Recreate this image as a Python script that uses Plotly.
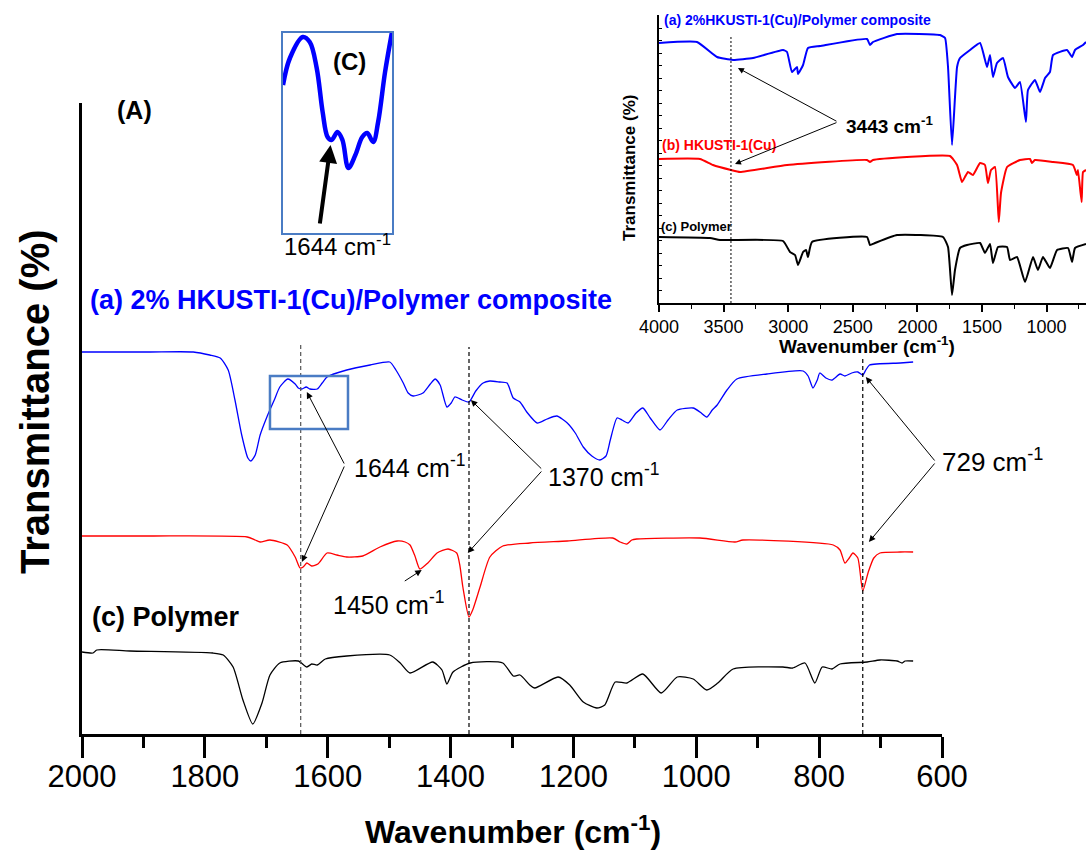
import plotly.graph_objects as go

# ---------------- main panel (A): 2000-600 cm-1, stacked spectra (a.u.) ----------------
wn_a = [2000, 1971, 1889, 1819, 1792, 1775, 1762, 1751, 1740, 1730, 1725, 1718, 1710, 1699, 1687,
        1678, 1665, 1653, 1648, 1642, 1635, 1629, 1617, 1609, 1601, 1569, 1531, 1499, 1489, 1477,
        1469, 1461, 1445, 1433, 1425, 1417, 1406, 1399, 1393, 1381, 1370, 1359, 1347, 1336, 1320,
        1308, 1298, 1287, 1276, 1259, 1243, 1227, 1210, 1197, 1184, 1170, 1157, 1147, 1140, 1129,
        1121, 1111, 1098, 1087, 1075, 1059, 1046, 1031, 1005, 994, 983, 974, 966, 950, 934,
        885, 826, 818, 810, 803, 799, 789, 779, 766, 758, 747, 737, 729, 724, 718, 668, 647]
t_a = [382, 382, 382, 382, 379, 376, 364, 334, 299, 276, 273, 279, 299, 317, 334,
       347, 355, 350, 346, 345, 347, 345, 345, 351, 357, 364, 369, 372, 364, 351,
       341, 338, 341, 350, 355, 349, 327, 331, 337, 334, 332, 343, 351, 353, 352,
       351, 336, 332, 322, 311, 315, 318, 311, 301, 287, 278, 274, 278, 294, 316,
       314, 311, 321, 326, 316, 304, 314, 324, 326, 322, 317, 324, 329, 344, 355,
       360, 363, 358, 346, 354, 361, 356, 354, 360, 358, 361, 362, 359, 364, 369, 371, 372]

wn_b = [2000, 1889, 1731, 1718, 1710, 1694, 1666, 1653, 1645, 1640, 1634, 1626, 1616, 1601, 1585,
        1569, 1543, 1515, 1487, 1474, 1466, 1458, 1450, 1437, 1422, 1404, 1390, 1385, 1380, 1370,
        1364, 1352, 1336, 1315, 1271, 1210, 1136, 1124, 1113, 1105, 1097, 994, 937, 924, 777,
        766, 758, 751, 745, 737, 729, 720, 711, 701, 668, 647]
t_b = [198, 198, 197, 194, 192, 194, 189, 177, 166, 167, 171, 168, 170, 181, 179,
       177, 178, 187, 193, 192, 189, 178, 165, 171, 181, 185, 181, 169, 147, 117,
       124, 147, 177, 188, 191, 193, 196, 192, 190, 194, 195, 196, 192, 194, 189,
       184, 171, 176, 181, 176, 143, 162, 176, 181, 182, 182]

wn_c = [2000, 1982, 1976, 1922, 1787, 1770, 1754, 1738, 1722, 1707, 1694, 1678, 1648, 1634, 1626,
        1617, 1604, 1569, 1499, 1482, 1466, 1429, 1414, 1406, 1396, 1368, 1315, 1298, 1287, 1271,
        1263, 1225, 1206, 1184, 1162, 1149, 1132, 1113, 1087, 1057, 1031, 1005, 983, 965, 940,
        859, 843, 823, 807, 795, 779, 766, 722, 701, 673, 665, 660, 647]
t_c = [82, 81, 84, 83, 81, 79, 67, 34, 10, 31, 59, 71, 73, 67, 70,
       69, 75, 78, 79, 71, 61, 72, 64, 50, 62, 71, 71, 58, 59, 49,
       46, 57, 49, 32, 26, 29, 52, 51, 60, 41, 57, 55, 44, 51, 65,
       67, 66, 71, 51, 67, 65, 70, 72, 74, 73, 71, 73, 73]

# ---------------- inset (B): full range 4000-700 cm-1 ----------------
wn_a_full = [4000, 3706, 3551, 3427, 3272, 3040, 3009, 2971, 2932, 2924, 2885, 2847, 2754, 2390, 2367,
             2344, 2158, 1825, 1786, 1763, 1732, 1693, 1670, 1593, 1515, 1461, 1438, 1415, 1384, 1337,
             1299, 1244, 1206, 1160, 1144, 1090, 1051, 1012, 974, 950, 842, 803, 780, 718, 695]
t_a_full = [260, 261, 246, 243, 245, 253, 251, 231, 236, 229, 238, 255, 257, 264, 258,
            261, 269, 268, 265, 236, 158, 236, 245, 253, 260, 236, 248, 226, 240, 245,
            226, 215, 221, 181, 213, 223, 211, 225, 231, 248, 253, 246, 253, 258, 261]

wn_b_full = [4000, 3683, 3582, 3443, 3373, 3009, 2390, 2367, 2344, 1748, 1693, 1655, 1632, 1608, 1570,
             1515, 1477, 1454, 1430, 1399, 1370, 1353, 1306, 1206, 1129, 1113, 1090, 950, 796, 765,
             757, 729, 718, 695]
t_b_full = [144, 144, 138, 133, 131, 138, 143, 141, 143, 147, 138, 121, 126, 131, 128,
            140, 138, 120, 133, 136, 81, 110, 136, 143, 144, 140, 143, 141, 138, 128,
            133, 101, 131, 133]

wn_c_full = [4000, 3605, 3528, 3040, 2986, 2947, 2924, 2885, 2862, 2847, 2816, 2390, 2367, 2328, 2158,
             1802, 1763, 1732, 1709, 1670, 1616, 1515, 1477, 1438, 1415, 1376, 1306, 1283, 1229, 1167,
             1105, 1067, 1028, 974, 919, 834, 803, 780, 695]
t_c_full = [66, 65, 63, 62, 51, 48, 38, 51, 53, 46, 61, 66, 58, 60, 68,
            66, 56, 8, 33, 55, 58, 60, 50, 59, 40, 56, 56, 43, 46, 21,
            46, 33, 46, 35, 53, 55, 41, 55, 59]

# ---------------- inset (C): magnified composite spectrum near 1644 cm-1 ----------------
wn_zoom = [1700, 1693, 1680, 1673, 1666, 1660, 1655, 1651, 1645, 1640, 1634, 1627, 1620, 1615, 1609,
           1604, 1597, 1590]
t_zoom = [148, 175, 196, 191, 165, 121, 96, 93, 101, 93, 65, 78, 96, 100, 91,
          111, 161, 201]

marked_bands = [1644, 1370, 729]
oh_band = 3443

BLUE, RED, BLACK = "#0000ff", "#ff0000", "#000000"
BOX = "#4a7cc4"
FONT = "Liberation Sans, Arial, sans-serif"

fig = go.Figure()

for wn, t, c in [(wn_a, t_a, BLUE), (wn_b, t_b, RED), (wn_c, t_c, BLACK)]:
    fig.add_trace(go.Scatter(x=wn, y=t, mode="lines", line=dict(color=c, width=1.3, shape="spline", smoothing=0.6),
                             xaxis="x", yaxis="y", showlegend=False))

for wn, t, c in [(wn_a_full, t_a_full, BLUE), (wn_b_full, t_b_full, RED), (wn_c_full, t_c_full, BLACK)]:
    fig.add_trace(go.Scatter(x=wn, y=t, mode="lines", line=dict(color=c, width=2, shape="spline", smoothing=0.4),
                             xaxis="x2", yaxis="y2", showlegend=False))

fig.add_trace(go.Scatter(x=wn_zoom, y=t_zoom, mode="lines", line=dict(color=BLUE, width=4.5, shape="spline"),
                         xaxis="x3", yaxis="y3", showlegend=False))

# geometry helpers (paper fractions)
W, H = 1086, 851
ML, MR, MT, MB = 82, 0, 15, 117
PW, PH = W - ML - MR, H - MT - MB

fig.update_layout(
    width=W, height=H,
    margin=dict(l=ML, r=MR, t=MT, b=MB, pad=0),
    paper_bgcolor="white", plot_bgcolor="white",
    font=dict(family=FONT, color="black"),
    xaxis=dict(domain=[0, 860 / PW], range=[2000, 600], anchor="y", automargin=False,
               showline=True, linecolor="black", linewidth=2.5, showgrid=False, zeroline=False,
               ticks="outside", ticklen=21, tickwidth=2.5, tickcolor="black",
               tickmode="linear", tick0=600, dtick=200, ticklabelstandoff=-8,
               tickfont=dict(size=31, family=FONT, color="black"),
               minor=dict(ticks="outside", ticklen=11, tickwidth=2.5, tickcolor="black", dtick=100, showgrid=False)),
    yaxis=dict(domain=[0, 631 / PH], range=[0, 631], anchor="x", automargin=False,
               showline=True, linecolor="black", linewidth=2.5, showgrid=False, zeroline=False,
               ticks="", showticklabels=False),
    xaxis2=dict(domain=[577 / PW, 1], range=[4000, 695], anchor="y2", automargin=False,
                showline=True, linecolor="black", linewidth=1.5, showgrid=False, zeroline=False,
                ticks="outside", ticklen=7, tickwidth=1.5, tickcolor="black",
                tickmode="linear", tick0=1000, dtick=500,
                tickfont=dict(size=18, family=FONT, color="black"),
                minor=dict(ticks="outside", ticklen=4, tickwidth=1.2, tickcolor="black", dtick=250, showgrid=False)),
    yaxis2=dict(domain=[431 / PH, 1], range=[0, 288], anchor="x2", automargin=False,
                showline=True, linecolor="black", linewidth=1.5, showgrid=False, zeroline=False,
                ticks="inside", ticklen=3, tickwidth=1, tickcolor="black",
                tickmode="linear", tick0=0, dtick=12.5, showticklabels=False),
    xaxis3=dict(domain=[201 / PW, 310 / PW], range=[1700, 1590], anchor="y3", automargin=False,
                showline=True, mirror=True, linecolor=BOX, linewidth=2, showgrid=False, zeroline=False,
                ticks="", showticklabels=False),
    yaxis3=dict(domain=[(734 - 233) / PH, (734 - 33) / PH], range=[0, 200], anchor="x3", automargin=False,
                showline=True, mirror=True, linecolor=BOX, linewidth=2, showgrid=False, zeroline=False,
                ticks="", showticklabels=False),
)

# vertical guide lines at the marked bands
guide_tops = [389, 387, 376]
guide_cols = ["#555555", BLACK, BLACK]
for wn, top, col in zip(marked_bands, guide_tops, guide_cols):
    fig.add_shape(type="line", xref="x", yref="y", x0=wn, x1=wn, y0=0, y1=top,
                  line=dict(color=col, width=1.2, dash="4px,3px"))
fig.add_shape(type="line", xref="x2", yref="y2", x0=oh_band, x1=oh_band, y0=0, y1=268,
              line=dict(color=BLACK, width=1, dash="2px,2px"))

# box marking the magnified region
fig.add_shape(type="rect", xref="x", yref="y", x0=1694, x1=1567, y0=305, y1=358,
              line=dict(color=BOX, width=2.5), fillcolor="rgba(0,0,0,0)")


def arrow(tip, tail, xr="x", yr="y", width=1.0, head=2, size=1.3):
    return dict(x=tip[0], y=tip[1], ax=tail[0], ay=tail[1], xref=xr, yref=yr, axref=xr, ayref=yr,
                text="", showarrow=True, arrowhead=head, arrowsize=size, arrowwidth=width,
                arrowcolor="black", standoff=0, startstandoff=0)


def label(x, y, text, size, xr="x", yr="y", color="black", bold=False, xanchor="left", angle=0):
    txt = f"<b>{text}</b>" if bold else text
    return dict(x=x, y=y, xref=xr, yref=yr, text=txt, showarrow=False, xanchor=xanchor,
                yanchor="middle", textangle=angle, font=dict(size=size, color=color, family=FONT))


ann = [
    # 1644
    arrow((1634, 342), (1572, 269)),
    arrow((1642, 172), (1572, 269)),
    label(1560, 268, "1644 cm<sup>-1</sup>", 25),
    # 1370
    arrow((1367, 334), (1250, 264)),
    arrow((1372, 181), (1250, 264)),
    label(1245, 259, "1370 cm<sup>-1</sup>", 25),
    # 729
    arrow((724, 357), (610, 272)),
    arrow((719, 192), (610, 272)),
    label(603, 274, "729 cm<sup>-1</sup>", 26),
    # 1450
    arrow((1447, 164), (1477, 152)),
    label(1501, 131, "1450 cm<sup>-1</sup>", 25, xanchor="center"),
    # sample labels
    label(1914, 624, "(A)", 25, bold=True, xanchor="center"),
    label(1990, 434, "(a) 2% HKUSTI-1(Cu)/Polymer composite", 27, color=BLUE, bold=True),
    label(2003, 217, "(b) HKUSTI-1(Cu)", 28, color=RED, bold=True),
    label(1987, 117, "(c) Polymer", 27, bold=True),
    # axis titles
    dict(x=(513 - ML) / PW, y=(734 - 830) / PH, xref="paper", yref="paper", showarrow=False,
         text="<b>Wavenumber (cm<sup>-1</sup>)</b>", xanchor="center", yanchor="middle",
         font=dict(size=32, family=FONT, color="black")),
    dict(x=(35 - ML) / PW, y=(734 - 402) / PH, xref="paper", yref="paper", showarrow=False,
         text="<b>Transmittance (%)</b>", textangle=-90, xanchor="center", yanchor="middle",
         font=dict(size=40, family=FONT, color="black")),
    # inset (B)
    label(3975, 283, "(a) 2%HKUSTI-1(Cu)/Polymer composite", 14, xr="x2", yr="y2", color=BLUE, bold=True),
    label(3990, 158, "(b) HKUSTI-1(Cu)", 14, xr="x2", yr="y2", color=RED, bold=True),
    label(4000, 77, "(c) Polymer", 13, xr="x2", yr="y2", bold=True),
    arrow((3389, 235), (2615, 181), xr="x2", yr="y2", size=1.2),
    arrow((3412, 139), (2615, 181), xr="x2", yr="y2", size=1.2),
    label(2570, 178, "3443 cm<sup>-1</sup>", 19, xr="x2", yr="y2", bold=True),
    dict(x=(867 - ML) / PW, y=(734 - 345) / PH, xref="paper", yref="paper", showarrow=False,
         text="<b>Wavenumber (cm<sup>-1</sup>)</b>", xanchor="center", yanchor="middle",
         font=dict(size=19, family=FONT, color="black")),
    dict(x=(630 - ML) / PW, y=(734 - 168) / PH, xref="paper", yref="paper", showarrow=False,
         text="<b>Transmittance (%)</b>", textangle=-90, xanchor="center", yanchor="middle",
         font=dict(size=17, family=FONT, color="black")),
    # inset (C)
    label(1633, 171, "(C)", 24, xr="x3", yr="y3", bold=True, xanchor="center"),
    arrow((1652, 88), (1663, 8), xr="x3", yr="y3", width=4, size=0.9),
    dict(x=(337 - ML) / PW, y=(734 - 245) / PH, xref="paper", yref="paper", showarrow=False,
         text="1644 cm<sup>-1</sup>", xanchor="center", yanchor="middle",
         font=dict(size=24, family=FONT, color="black")),
]
fig.update_layout(annotations=ann)

fig.write_html("out.html")
